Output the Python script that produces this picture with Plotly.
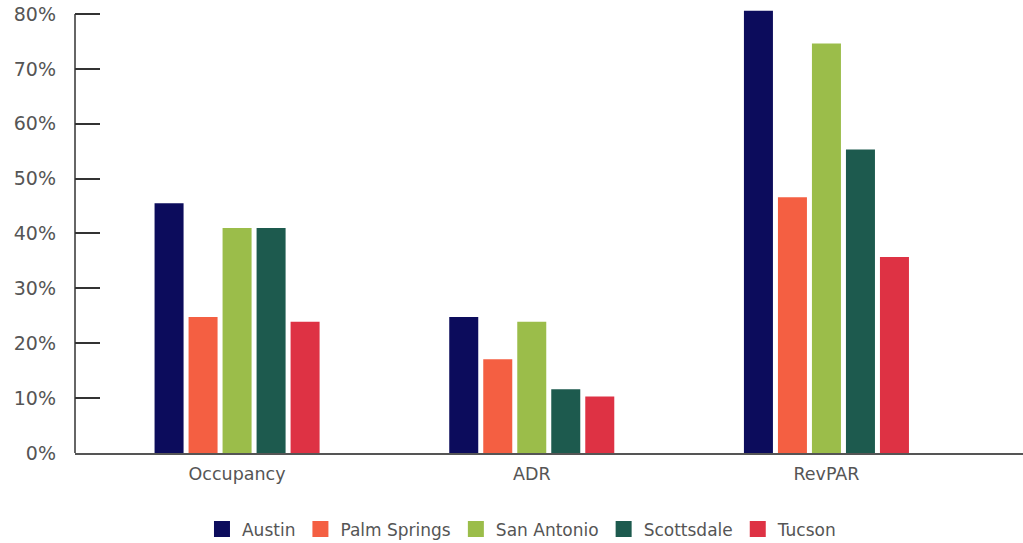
import plotly.graph_objects as go

categories = ["Occupancy", "ADR", "RevPAR"]
series_names = ["Austin", "Palm Springs", "San Antonio", "Scottsdale", "Tucson"]
austin = [45.5, 24.8, 80.6]
palm_springs = [24.8, 17.1, 46.6]
san_antonio = [41.0, 23.9, 74.6]
scottsdale = [41.0, 11.6, 55.3]
tucson = [23.9, 10.3, 35.7]
colors = ["#0c0c5c", "#f45f42", "#9bbd4a", "#1d5a4e", "#de3244"]
y_ticks = [0, 10, 20, 30, 40, 50, 60, 70, 80]
y_tick_labels = [f"{v}%" for v in y_ticks]

values = [austin, palm_springs, san_antonio, scottsdale, tucson]

fig = go.Figure()
for name, vals, col in zip(series_names, values, colors):
    fig.add_trace(go.Bar(
        name=name, x=categories, y=vals,
        marker=dict(color=col, line=dict(width=0)),
        showlegend=False,
    ))
# legend entries with larger square swatches
for name, col in zip(series_names, colors):
    fig.add_trace(go.Scatter(
        name=name, x=[None], y=[None], mode="markers",
        marker=dict(symbol="square", size=16, color=col),
        showlegend=True,
    ))

font_family = "'DejaVu Sans', sans-serif"
fig.update_layout(
    width=1023, height=543,
    margin=dict(l=75, r=0, t=3, b=90, autoexpand=False),
    paper_bgcolor="white", plot_bgcolor="white",
    barmode="group", bargap=0.423, bargroupgap=0.147,
    font=dict(family=font_family, color="#555555"),
    legend=dict(
        orientation="h", x=0.4715, xanchor="center", y=-0.17, yanchor="middle",
        font=dict(size=17, color="#555555"),
        traceorder="normal",
    ),
    xaxis=dict(
        range=[-0.55, 2.667], showline=True, linecolor="#555555", linewidth=2,
        ticks="", showgrid=False, zeroline=False, ticklabelstandoff=4,
        tickfont=dict(size=17.5, color="#555555"),
    ),
    yaxis=dict(
        range=[0, 82], tickvals=y_ticks, ticktext=y_tick_labels,
        showline=False,
        ticks="inside", ticklen=25, tickwidth=1.5, tickcolor="#333333",
        showgrid=False, zeroline=False, ticklabelstandoff=18,
        tickfont=dict(size=19, color="#555555"),
    ),
    shapes=[dict(
        type="line", xref="x domain", yref="y",
        x0=0, x1=0, y0=y_ticks[0], y1=y_ticks[-1],
        line=dict(color="#333333", width=1.5),
    )],
)

fig.write_html("out.html")
